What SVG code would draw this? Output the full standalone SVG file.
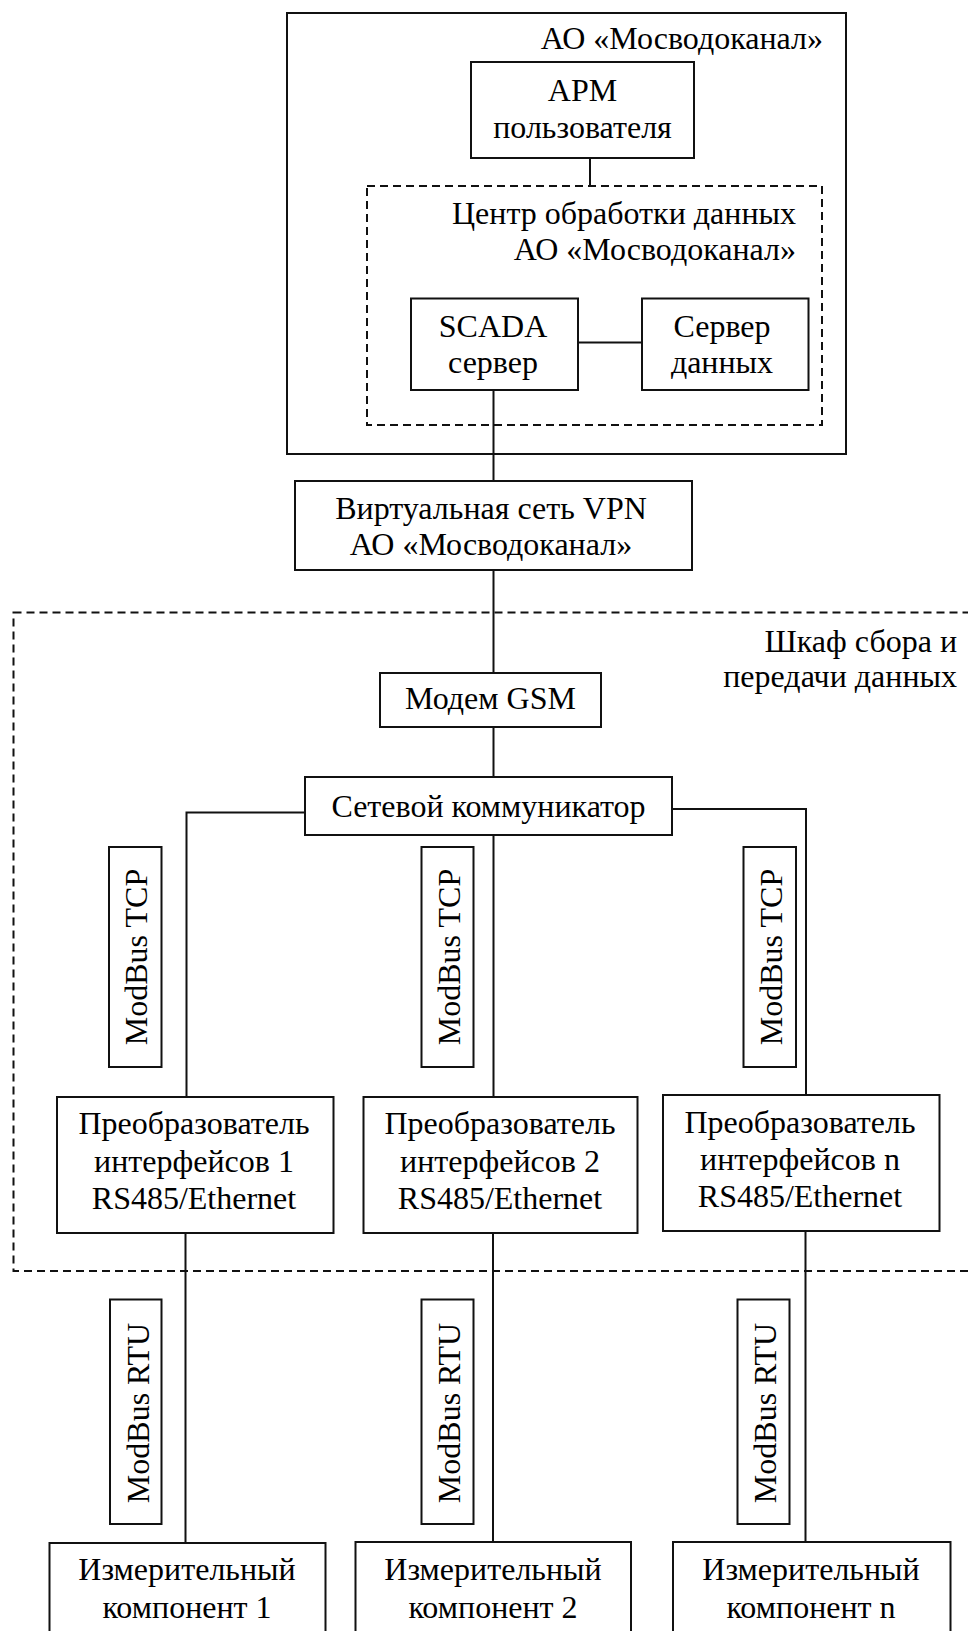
<svg xmlns="http://www.w3.org/2000/svg" width="968" height="1631" viewBox="0 0 968 1631">
<style>
.box{fill:#fff;stroke:#111;stroke-width:2}
.dash{fill:none;stroke:#111;stroke-width:2;stroke-dasharray:8 5}
.ln{fill:none;stroke:#111;stroke-width:2}
text{font-family:"Liberation Serif","Times New Roman",serif;font-size:32px;fill:#000}
.c{text-anchor:middle}
.r{text-anchor:end}
</style>
<rect width="968" height="1631" fill="#fff"/>
<g id="mosvodokanal">
<rect class="box" x="287" y="13" width="559" height="441"/>
<text class="r" x="823" y="49">АО «Мосводоканал»</text>
</g>
<g id="cabinet">
<rect class="dash" x="13.5" y="612.5" width="980" height="658.5"/>
<text class="r" x="957" y="652">Шкаф сбора и</text>
<text class="r" x="957" y="687">передачи данных</text>
</g>
<g id="dpc">
<rect class="dash" x="367" y="186" width="455" height="239"/>
<text class="r" x="796" y="224">Центр обработки данных</text>
<text class="r" x="796" y="260">АО «Мосводоканал»</text>
</g>
<g id="connectors">
<line class="ln" x1="590" y1="158" x2="590" y2="186"/>
<line class="ln" x1="578" y1="342.5" x2="642" y2="342.5"/>
<line class="ln" x1="493.5" y1="390" x2="493.5" y2="481"/>
<line class="ln" x1="493.5" y1="570" x2="493.5" y2="673"/>
<line class="ln" x1="493.5" y1="727" x2="493.5" y2="777"/>
<path class="ln" d="M305,812.5 H186.5 V1097"/>
<line class="ln" x1="493.5" y1="835" x2="493.5" y2="1097"/>
<path class="ln" d="M672,809 H806 V1095"/>
<line class="ln" x1="185.5" y1="1233" x2="185.5" y2="1543"/>
<line class="ln" x1="493" y1="1233" x2="493" y2="1542"/>
<line class="ln" x1="805.5" y1="1231" x2="805.5" y2="1542"/>
</g>
<g id="arm">
<rect class="box" x="471" y="62" width="223" height="96"/>
<text class="c" x="582.5" y="100.5">АРМ</text>
<text class="c" x="582.5" y="138">пользователя</text>
</g>
<g id="scada">
<rect class="box" x="411" y="298.5" width="167" height="91.5"/>
<text class="c" x="493" y="337">SCADA</text>
<text class="c" x="493" y="373">сервер</text>
</g>
<g id="dataserver">
<rect class="box" x="642" y="298.5" width="166.5" height="91.5"/>
<text class="c" x="722" y="337">Сервер</text>
<text class="c" x="722" y="373">данных</text>
</g>
<g id="vpn">
<rect class="box" x="295" y="481" width="397" height="89"/>
<text class="c" x="491" y="519">Виртуальная сеть VPN</text>
<text class="c" x="491" y="555">АО «Мосводоканал»</text>
</g>
<g id="modem">
<rect class="box" x="380" y="673" width="221" height="54"/>
<text class="c" x="490.5" y="709">Модем GSM</text>
</g>
<g id="communicator">
<rect class="box" x="305" y="777" width="367" height="58"/>
<text class="c" x="488.5" y="817">Сетевой коммуникатор</text>
</g>
<g id="tcp1">
<rect class="box" x="109" y="847" width="52.5" height="220"/>
<text class="c" transform="translate(147,957) rotate(-90)">ModBus TCP</text>
</g>
<g id="tcp2">
<rect class="box" x="421.5" y="847" width="52" height="220"/>
<text class="c" transform="translate(459.5,957) rotate(-90)">ModBus TCP</text>
</g>
<g id="tcp3">
<rect class="box" x="743.5" y="847" width="52.5" height="220"/>
<text class="c" transform="translate(781.5,957) rotate(-90)">ModBus TCP</text>
</g>
<g id="conv1">
<rect class="box" x="57" y="1097" width="276.5" height="136"/>
<text class="c" x="194" y="1134">Преобразователь</text>
<text class="c" x="194" y="1171.5">интерфейсов 1</text>
<text class="c" x="194" y="1209">RS485/Ethernet</text>
</g>
<g id="conv2">
<rect class="box" x="363.5" y="1097" width="274" height="136"/>
<text class="c" x="500" y="1134">Преобразователь</text>
<text class="c" x="500" y="1171.5">интерфейсов 2</text>
<text class="c" x="500" y="1209">RS485/Ethernet</text>
</g>
<g id="convn">
<rect class="box" x="663" y="1095" width="276.5" height="136"/>
<text class="c" x="800" y="1133">Преобразователь</text>
<text class="c" x="800" y="1170">интерфейсов n</text>
<text class="c" x="800" y="1207">RS485/Ethernet</text>
</g>
<g id="rtu1">
<rect class="box" x="110" y="1299.5" width="51.5" height="224.5"/>
<text class="c" transform="translate(148.5,1413) rotate(-90)">ModBus RTU</text>
</g>
<g id="rtu2">
<rect class="box" x="421.5" y="1299.5" width="52" height="224.5"/>
<text class="c" transform="translate(460,1413) rotate(-90)">ModBus RTU</text>
</g>
<g id="rtu3">
<rect class="box" x="737.5" y="1299.5" width="52" height="224.5"/>
<text class="c" transform="translate(776,1413) rotate(-90)">ModBus RTU</text>
</g>
<g id="meas1">
<rect class="box" x="49.5" y="1543" width="276" height="100"/>
<text class="c" x="187" y="1580">Измерительный</text>
<text class="c" x="187" y="1618">компонент 1</text>
</g>
<g id="meas2">
<rect class="box" x="355.5" y="1542" width="275.5" height="100"/>
<text class="c" x="493" y="1580">Измерительный</text>
<text class="c" x="493" y="1618">компонент 2</text>
</g>
<g id="measn">
<rect class="box" x="673" y="1542" width="277.5" height="100"/>
<text class="c" x="811" y="1580">Измерительный</text>
<text class="c" x="811" y="1618">компонент n</text>
</g>
</svg>
